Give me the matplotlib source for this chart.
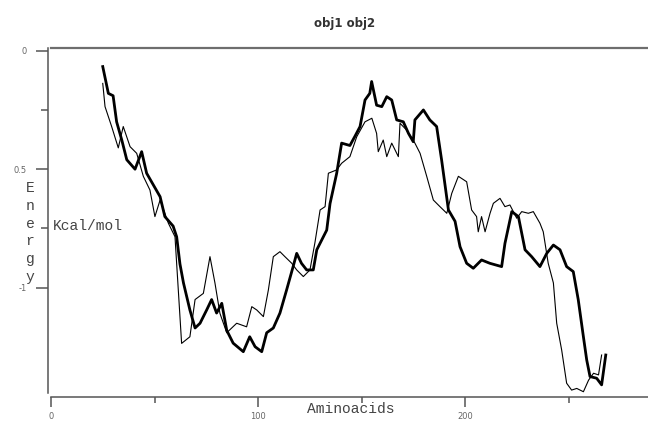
"""Energy profile of obj1 / obj2 along the sequence."""
import matplotlib
matplotlib.use("Agg")
import matplotlib.pyplot as plt
from matplotlib.ticker import FixedLocator

# obj1 (thick trace)
obj1_x = [25, 27.7, 30, 31.7, 34.2, 36.6, 40.6, 43.8, 46.2, 52.7, 55, 59, 60.7,
          62.3, 64, 67.1, 69.6, 72, 75.2, 77.6, 80, 82.5, 84.9, 88, 92.9, 96,
          98.6, 101.8, 104.2, 107.4, 110.6, 113.8, 117, 118.7, 121, 123.5,
          126.7, 128.4, 133.2, 134.8, 138, 140.4, 144.4, 146.9, 149.3, 151.7,
          154, 154.9, 157.3, 159.8, 162.2, 164.6, 167, 170.2, 172.7, 175,
          175.8, 179.9, 183, 186.3, 188.7, 192, 195.2, 197.6, 200.8, 204, 208,
          212, 217.7, 219.3, 222.6, 225.8, 229, 232.2, 236.2, 239.5, 242.7,
          245.9, 249.1, 252.3, 254.7, 257.2, 258.8, 260.4, 263.6, 266, 268]
obj1_y = [-0.067, -0.18, -0.19, -0.30, -0.377, -0.46, -0.50, -0.426, -0.517,
          -0.616, -0.70, -0.74, -0.785, -0.90, -0.98, -1.094, -1.17, -1.15,
          -1.094, -1.05, -1.107, -1.066, -1.18, -1.234, -1.27, -1.207, -1.249,
          -1.27, -1.19, -1.17, -1.107, -1.01, -0.91, -0.855, -0.897, -0.925,
          -0.925, -0.84, -0.757, -0.645, -0.518, -0.39, -0.40, -0.36, -0.32,
          -0.208, -0.18, -0.13, -0.23, -0.236, -0.194, -0.208, -0.292, -0.30,
          -0.349, -0.384, -0.292, -0.25, -0.292, -0.32, -0.461, -0.672, -0.72,
          -0.827, -0.897, -0.918, -0.883, -0.897, -0.911, -0.813, -0.679,
          -0.70, -0.84, -0.869, -0.911, -0.855, -0.82, -0.84, -0.911, -0.932,
          -1.05, -1.207, -1.305, -1.375, -1.382, -1.41, -1.284]

# obj2 (thin trace)
obj2_x = [25, 26.1, 29.3, 32.5, 34.9, 38.2, 41.4, 44.6, 47.8, 50.2, 52.7, 56.7,
          59.9, 63.1, 67.1, 69.6, 73.6, 76.8, 79.2, 81.6, 84.9, 89.7, 94.5, 97,
          99.4, 102.6, 105, 107.4, 110.6, 113, 116.3, 118.7, 121.9, 125.1,
          127.5, 130, 132.4, 134, 138, 140.4, 144.4, 147.7, 151.7, 155, 157.3,
          158.1, 160.5, 162.2, 164.6, 167.8, 168.6, 171.8, 175.8, 178.3, 181.5,
          184.7, 187.9, 191.2, 193.6, 196.8, 200.8, 203.2, 205.6, 206.4, 208,
          209.7, 212.1, 213.7, 216.9, 219.3, 221.7, 225, 227.4, 230.6, 233,
          236.2, 237.8, 240.2, 242.7, 244.3, 246.7, 249.1, 251.5, 254, 257.2,
          259.7, 262.1, 264.5, 266]
obj2_y = [-0.138, -0.236, -0.32, -0.41, -0.32, -0.405, -0.433, -0.53, -0.588,
          -0.70, -0.63, -0.728, -0.785, -1.235, -1.207, -1.05, -1.024, -0.869,
          -0.98, -1.108, -1.19, -1.15, -1.165, -1.08, -1.094, -1.122, -1.01,
          -0.869, -0.848, -0.869, -0.897, -0.925, -0.953, -0.925, -0.81,
          -0.672, -0.658, -0.517, -0.503, -0.475, -0.447, -0.363, -0.30,
          -0.285, -0.349, -0.426, -0.377, -0.447, -0.39, -0.447, -0.306,
          -0.335, -0.39, -0.433, -0.53, -0.63, -0.658, -0.686, -0.602, -0.53,
          -0.553, -0.672, -0.70, -0.764, -0.70, -0.764, -0.686, -0.644, -0.623,
          -0.658, -0.651, -0.707, -0.679, -0.686, -0.679, -0.728, -0.764,
          -0.897, -0.98, -1.15, -1.263, -1.403, -1.432, -1.425, -1.439, -1.39,
          -1.361, -1.368, -1.284]

x_major = [0, 100, 200]
x_minor = [50, 150, 250]
x_labels = ["0", "100", "200"]
y_major = [0, -0.5, -1]
y_minor = [-0.25, -0.75]
y_labels = ["0", "0.5", "-1"]

W, H = 648, 421
fig = plt.figure(figsize=(W / 100, H / 100), dpi=100)
ax = fig.add_axes([51 / W, 1 - 393 / H, (W - 51) / W, (393 - 48) / H])

ax.plot(obj2_x, obj2_y, color="black", linewidth=0.8)
ax.plot(obj1_x, obj1_y, color="black", linewidth=2.0)

ax.set_xlim(0, (W - 51) / 2.07)
ax.set_ylim(-(393 - 50.7) / 237, (50.7 - 48) / 237)

ax.spines["right"].set_visible(False)
ax.spines["top"].set_color("#6e6e6e")
ax.spines["top"].set_linewidth(1.6)
for side in ["left", "bottom"]:
    ax.spines[side].set_color("#555555")
    ax.spines[side].set_linewidth(1.1)
ax.spines["left"].set_position(("outward", 2.2))
ax.spines["bottom"].set_position(("outward", 2.9))

ax.xaxis.set_major_locator(FixedLocator(x_major))
ax.xaxis.set_minor_locator(FixedLocator(x_minor))
ax.set_xticklabels(x_labels)
ax.yaxis.set_major_locator(FixedLocator(y_major))
ax.yaxis.set_minor_locator(FixedLocator(y_minor))
ax.set_yticklabels(y_labels)

ax.tick_params(axis="x", which="major", length=7.2, width=1.1, color="#555555",
               labelsize=6, labelcolor="#666666", pad=3.5)
ax.tick_params(axis="x", which="minor", length=4.3, width=1.1, color="#555555")
ax.tick_params(axis="y", which="major", length=8.6, width=1.1, color="#555555",
               labelsize=6, labelcolor="#666666", pad=6.5)
ax.tick_params(axis="y", which="minor", length=5, width=1.1, color="#555555")

mono = "Liberation Mono"
fig.text(345 / W, 1 - 23 / H, "obj1 obj2", ha="center", va="center",
         fontsize=8.5, color="#333333", fontweight="bold")
fig.text(307 / W, 1 - 409 / H, "Aminoacids", ha="left", va="center",
         family=mono, fontsize=10.5, color="#444444")
fig.text(53 / W, 1 - 226 / H, "Kcal/mol", ha="left", va="center",
         family=mono, fontsize=10.5, color="#444444")
for i, ch in enumerate("Energy"):
    fig.text(30 / W, 1 - (188 + i * 17.8) / H, ch, ha="center", va="center",
             family=mono, fontsize=10.5, color="#444444")

fig.savefig("out.png", dpi=100)
plt.close(fig)
